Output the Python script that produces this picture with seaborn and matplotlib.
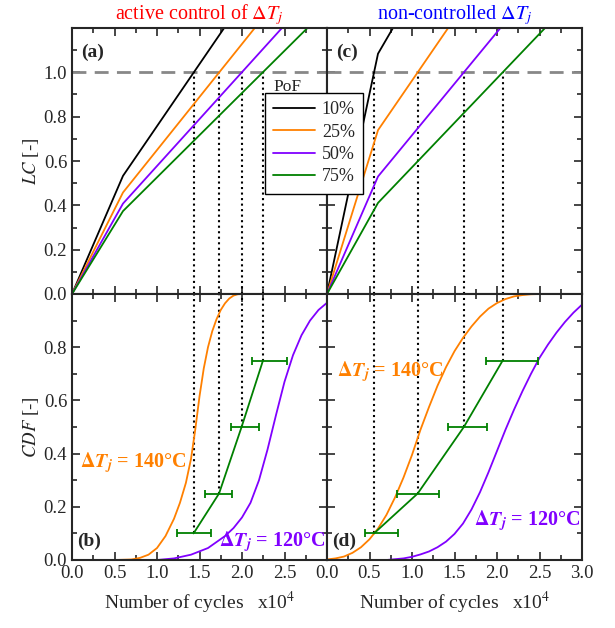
import numpy as np
import pandas as pd
import matplotlib
matplotlib.use('Agg')
from matplotlib import pyplot as plt
from matplotlib.ticker import MultipleLocator
import seaborn as sns

# ---- data (cycles in units of 1e4) ----
pof_labels = ['10%', '25%', '50%', '75%']
pof_values = [0.10, 0.25, 0.50, 0.75]
line_colors = ['black', '#FF8000', '#8000FF', '#008000']

knee_x = 0.6
# panel (a): active control
a_knee = [0.533, 0.458, 0.408, 0.374]
a_cross = [1.43, 1.73, 1.995, 2.247]   # where LC = 1
a_top = [1.79, 2.15, 2.47, 2.77]       # where LC = 1.2
# panel (c): non-controlled
c_knee = [1.084, 0.739, 0.530, 0.411]
c_cross = [0.553, 1.067, 1.61, 2.067]
c_top = [0.776, 1.425, 2.04, 2.565]

# panel (b) CDF curves
b140_x = [0.50, 0.70, 0.80, 0.90, 1.00, 1.10, 1.20, 1.27, 1.34, 1.40, 1.45, 1.50, 1.55,
          1.60, 1.65, 1.70, 1.75, 1.80, 1.85, 1.90, 1.95, 2.00, 3.00]
b140_y = [0.0, 0.002, 0.008, 0.020, 0.045, 0.09, 0.155, 0.215, 0.29, 0.38, 0.49, 0.615, 0.72,
          0.80, 0.86, 0.905, 0.94, 0.965, 0.983, 0.994, 0.999, 1.0, 1.0]
b120_x = [1.00, 1.20, 1.40, 1.60, 1.80, 1.90, 2.00, 2.10, 2.20, 2.30, 2.40, 2.50, 2.60,
          2.70, 2.80, 2.90, 3.00]
b120_y = [0.0, 0.006, 0.02, 0.045, 0.09, 0.12, 0.16, 0.215, 0.30, 0.415, 0.545, 0.67, 0.77,
          0.845, 0.90, 0.94, 0.967]
b_err_lo = [1.23, 1.57, 1.875, 2.12]
b_err_hi = [1.64, 1.886, 2.196, 2.53]

# panel (d) CDF curves
d140_x = [0.0, 0.1, 0.2, 0.3, 0.4, 0.5, 0.6, 0.7, 0.8, 0.9, 1.0, 1.1, 1.2, 1.3, 1.4,
          1.5, 1.6, 1.7, 1.8, 1.9, 2.0, 2.1, 2.2, 2.3, 2.4, 2.5, 3.0]
d140_y = [0.002, 0.006, 0.013, 0.027, 0.048, 0.078, 0.118, 0.17, 0.235, 0.31, 0.395, 0.49,
          0.575, 0.655, 0.725, 0.785, 0.835, 0.878, 0.915, 0.945, 0.966, 0.981, 0.991,
          0.996, 0.999, 1.0, 1.0]
d120_x = [0.70, 0.90, 1.00, 1.10, 1.20, 1.30, 1.40, 1.50, 1.60, 1.70, 1.80, 1.90, 2.00,
          2.10, 2.20, 2.30, 2.40, 2.50, 2.60, 2.70, 2.80, 2.90, 3.00]
d120_y = [0.0, 0.006, 0.012, 0.021, 0.032, 0.048, 0.069, 0.098, 0.137, 0.19, 0.255, 0.33,
          0.41, 0.49, 0.565, 0.635, 0.70, 0.76, 0.81, 0.855, 0.895, 0.93, 0.96]
d_err_lo = [0.447, 0.827, 1.424, 1.87]
d_err_hi = [0.839, 1.32, 1.879, 2.486]

# ---- style ----
sns.set_style('ticks')
plt.rcParams['font.family'] = ['Liberation Serif', 'DejaVu Serif']
plt.rcParams['mathtext.fontset'] = 'stix'
plt.rcParams['axes.linewidth'] = 1.5
plt.rcParams['xtick.direction'] = 'in'
plt.rcParams['ytick.direction'] = 'in'

fig, axes = plt.subplots(2, 2, figsize=(6.15, 6.28), dpi=100)
fig.subplots_adjust(left=72/615, right=582/615, top=1-28/628, bottom=1-560/628,
                    wspace=0, hspace=0)
ax_a, ax_c = axes[0]
ax_b, ax_d = axes[1]

orange = line_colors[1]
purple = line_colors[2]
green = line_colors[3]


def lc_panel(ax, knee, top):
    for i in range(4):
        sns.lineplot(x=[0, knee_x, top[i]], y=[0, knee[i], 1.2],
                     color=line_colors[i], lw=1.3, sort=False, estimator=None,
                     ax=ax, label=pof_labels[i], legend=False)
    ax.axhline(1.0, color='#888888', lw=2, ls=(0, (5, 3)), zorder=1)
    ax.set_ylim(0, 1.2)


def cdf_panel(ax, x140, y140, x120, y120, cross, lo, hi):
    sns.lineplot(x=x140, y=y140, color=orange, lw=1.3, sort=False, estimator=None, ax=ax)
    sns.lineplot(x=x120, y=y120, color=purple, lw=1.3, sort=False, estimator=None, ax=ax)
    ax.vlines(cross, pof_values, 1.0, colors='black', linestyles=':', lw=1.5, zorder=1)
    xerr = [np.array(cross) - np.array(lo), np.array(hi) - np.array(cross)]
    ax.errorbar(cross, pof_values, xerr=xerr, color=green, lw=1.3,
                capsize=3, capthick=1.3, elinewidth=1.3)
    ax.set_ylim(0, 1.0)


lc_panel(ax_a, a_knee, a_top)
lc_panel(ax_c, c_knee, c_top)
ax_a.vlines(a_cross, 0, 1.0, colors='black', linestyles=':', lw=1.5, zorder=1)
ax_c.vlines(c_cross, 0, 1.0, colors='black', linestyles=':', lw=1.5, zorder=1)
cdf_panel(ax_b, b140_x, b140_y, b120_x, b120_y, a_cross, b_err_lo, b_err_hi)
cdf_panel(ax_d, d140_x, d140_y, d120_x, d120_y, c_cross, d_err_lo, d_err_hi)

for ax in axes.flat:
    ax.set_xlim(0, 3.0)
    ax.set_xlabel('')
    ax.set_ylabel('')

for ax in [ax_a, ax_c]:
    ax.set_yticks(np.arange(0, 1.01, 0.2))
    ax.set_xticks(np.arange(0, 3.01, 0.5))
    ax.tick_params(labelbottom=False)
for ax in [ax_b, ax_d]:
    ax.set_yticks(np.arange(0, 0.81, 0.2))
ax_b.set_xticks(np.arange(0, 2.51, 0.5))
ax_d.set_xticks(np.arange(0, 3.01, 0.5))
for ax in [ax_c, ax_d]:
    ax.tick_params(labelleft=False)

for ax in axes.flat:
    ax.xaxis.set_minor_locator(MultipleLocator(0.25))
    ax.yaxis.set_minor_locator(MultipleLocator(0.1))
    ax.tick_params(which='both', top=True, right=True, labelsize=13.5, width=1.2)
    ax.tick_params(which='major', length=6)
    ax.tick_params(which='minor', length=3.5)
    ax.yaxis.set_major_formatter('{x:.1f}')
    ax.xaxis.set_major_formatter('{x:.1f}')

for ax in [ax_b, ax_d]:
    ax.set_xlabel('Number of cycles   x10$^4$', fontsize=14, labelpad=6)

ax_a.set_ylabel('$LC$ [-]', fontsize=13.5, labelpad=2)
ax_b.set_ylabel('$CDF$ [-]', fontsize=13.5, labelpad=2)

ax_a.set_title(r'active control of $\Delta T_j$', color='red', fontsize=14.5, pad=6)
ax_c.set_title(r'non-controlled $\Delta T_j$', color='blue', fontsize=14.5, pad=6)

lbl = dict(fontsize=14, fontweight='bold')
ax_a.text(0.11, 1.09, '(a)', va='center', **lbl)
ax_c.text(0.11, 1.09, '(c)', va='center', **lbl)
ax_b.text(0.06, 0.07, '(b)', va='center', **lbl)
ax_d.text(0.06, 0.07, '(d)', va='center', **lbl)

t140 = r'$\mathbf{\Delta}\mathbfit{T}_{\mathbfit{j}}$ = 140°C'
t120 = r'$\mathbf{\Delta}\mathbfit{T}_{\mathbfit{j}}$ = 120°C'
big = dict(fontsize=14.5, fontweight='bold', va='center')
ax_b.text(0.10, 0.365, t140, color=orange, **big)
ax_b.text(1.73, 0.07, t120, color=purple, **big)
ax_d.text(0.12, 0.71, t140, color=orange, **big)
ax_d.text(1.73, 0.15, t120, color=purple, **big)

handles, labels = ax_a.get_legend_handles_labels()
fig.legend(handles, labels, loc='upper left', bbox_to_anchor=(265/615, 1-93/628),
           frameon=True, fancybox=False, edgecolor='black', framealpha=1,
           fontsize=13, handlelength=2.3, labelspacing=0.3, borderpad=0.45,
           handletextpad=0.4, borderaxespad=0)
fig.text(273/615, 1-87/628, 'PoF', fontsize=12.5, va='center')

fig.savefig('out.png', dpi=100)
